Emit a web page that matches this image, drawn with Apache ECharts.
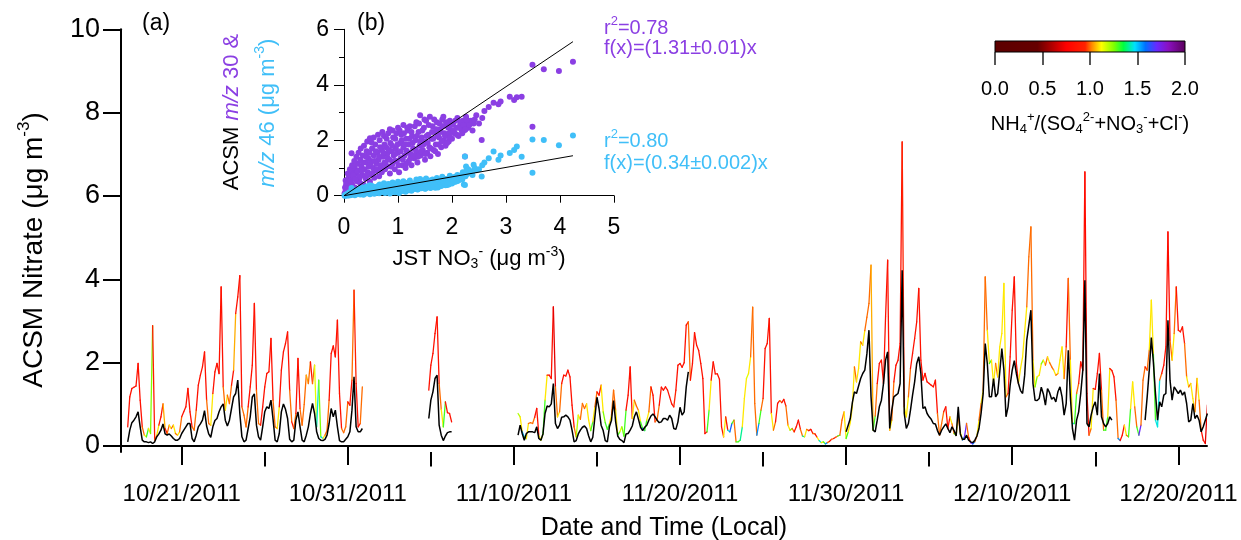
<!DOCTYPE html>
<html>
<head>
<meta charset="utf-8">
<script src="https://cdn.jsdelivr.net/npm/echarts@6.0.0/dist/echarts.min.js"></script>
<style>
html,body{margin:0;padding:0;background:#fff;}
#chart{width:1241px;height:540px;}
</style>
</head>
<body>
<div id="chart"></div>
<script>
// ---------- time series: ACSM nitrate (coloured by NH4 ratio) and JST nitrate ----------
const HOUR = 3600e3;
const STEP_HOURS = 3;

// start of each continuous ACSM record (UTC used as local clock)
const acsmStarts = [Date.UTC(2011, 9, 17, 18), Date.UTC(2011, 10, 4, 21), Date.UTC(2011, 10, 10, 6)];

const nitrateA = [
  0.46,1.18,1.38,1.41,1.44,1.98,1.10,0.46,0.26,0.22,
  0.42,0.30,2.89,0.14,0.26,0.50,0.70,1.01,0.42,0.30,
  0.50,0.42,0.50,0.30,0.26,0.34,0.70,0.82,0.94,1.38,
  0.82,0.46,0.38,0.86,1.46,1.70,1.90,2.26,1.10,0.54,
  0.50,1.26,1.78,1.98,1.74,3.82,1.42,0.86,1.22,1.02,
  1.46,1.82,3.18,3.58,4.09,0.94,0.74,0.46,0.94,1.42,
  1.94,3.42,1.34,0.54,0.50,0.94,1.42,1.74,1.78,2.58,
  1.10,0.46,0.42,0.94,1.82,2.26,2.46,2.74,1.34,0.58,
  0.42,0.78,2.10,0.90,0.50,1.00,1.70,1.50,2.02,1.50,
  1.94,0.46,1.58,0.22,0.18,0.26,0.38,1.10,2.22,2.40,
  2.14,3.02,1.26,0.42,0.32,0.46,1.06,0.98,1.58,3.74,
  1.50,0.46,0.54,1.42
];
const ratioA = [
  0.85,0.85,0.85,0.85,0.85,0.85,0.85,1.0,1.1,1.3,
  1.1,1.25,0.9,1.0,1.1,0.85,0.85,1.05,0.85,1.0,
  1.1,1.0,1.1,1.0,1.1,1.0,0.85,0.85,0.85,0.85,
  0.85,1.0,1.0,0.85,0.85,0.85,0.85,0.85,1.0,1.0,
  1.1,0.85,0.85,0.85,0.85,0.85,1.0,1.1,1.0,1.0,
  0.85,1.05,0.85,0.85,0.85,1.0,1.0,1.0,0.85,0.85,
  0.85,0.85,1.0,1.0,0.85,0.85,0.85,0.85,0.85,0.85,
  1.0,1.0,1.1,0.85,0.85,0.85,0.85,0.85,1.0,0.85,
  1.0,0.85,0.85,1.0,1.0,1.0,1.05,1.0,0.85,1.0,
  1.15,1.45,1.25,1.45,1.1,1.0,1.0,0.85,0.85,0.85,
  0.85,0.85,0.85,1.0,1.0,1.0,0.85,0.85,1.0,0.95,
  0.85,0.85,1.0,0.85
];
const nitrateB = [1.34,1.94,2.22,2.70,3.10,1.50,0.88,0.46,1.06,0.80,0.78,0.58];
const ratioB   = [0.85,0.85,0.85,0.85,0.85,1.0,1.1,1.3,0.85,0.85,0.85,0.85];
const nitrateC = [
  0.78,0.70,0.34,0.22,0.18,0.54,0.56,0.54,0.69,0.90,
  0.26,0.14,0.29,1.10,1.70,1.70,1.62,3.34,1.42,0.70,
  0.82,1.50,1.70,1.68,1.82,1.66,0.98,0.46,0.22,0.74,
  0.64,1.02,0.90,1.01,0.62,0.37,0.58,0.94,1.30,1.22,
  1.46,0.82,0.56,0.40,0.53,0.74,1.34,0.86,0.26,0.34,
  0.46,0.24,0.86,1.22,1.90,0.66,1.10,0.96,0.85,0.58,
  0.42,0.37,0.62,0.82,1.42,1.22,0.58,0.64,0.98,1.41,
  1.34,1.42,1.34,1.18,1.01,0.94,1.34,1.94,1.98,1.89,
  2.00,2.90,2.98,1.58,1.98,2.72,2.42,2.29,1.98,1.62,
  0.30,0.34,0.86,1.58,2.02,1.73,1.73,1.60,0.46,0.22,
  0.70,0.38,0.34,0.54,0.62,0.10,0.10,0.14,0.46,1.14,
  1.62,1.74,2.14,3.33,1.02,0.26,0.54,0.86,1.14,2.34,
  2.46,3.06,0.78,0.38,0.58,1.02,1.09,1.04,1.12,0.96,
  0.50,0.38,0.42,0.34,0.46,0.62,0.40,0.24,0.22,0.40,
  0.37,0.40,0.30,0.29,0.21,0.13,0.08,0.10,0.05,0.08,
  0.11,0.16,0.18,0.21,0.24,0.26,0.62,0.82,0.18,0.34,
  0.56,0.94,1.90,1.54,1.86,2.50,2.42,2.77,3.09,3.42,
  4.34,0.38,0.72,1.50,1.98,2.06,1.50,3.10,4.46,0.38,
  0.62,1.54,1.94,2.06,2.46,7.30,0.94,0.70,1.18,1.86,
  2.22,2.58,2.98,3.78,2.06,1.58,1.74,1.54,1.50,1.46,
  1.42,1.58,0.78,0.26,0.54,0.82,0.94,0.42,0.70,0.53,
  0.30,0.26,0.70,0.34,0.14,0.22,0.54,0.21,0.08,0.05,
  0.10,0.24,0.62,1.02,1.34,4.06,2.78,1.98,2.06,1.50,
  1.98,1.66,2.38,2.70,3.90,1.18,1.26,2.14,3.26,4.06,
  1.98,1.50,1.86,2.14,2.75,3.34,4.54,5.26,2.06,1.42,
  1.66,1.70,1.97,2.06,1.94,2.14,2.00,1.90,1.82,1.70,
  1.74,2.06,2.38,1.62,2.38,4.02,2.06,0.54,0.54,1.26,
  1.50,2.02,1.82,6.58,1.26,0.26,0.42,1.38,1.36,1.74,
  2.22,1.34,0.38,0.38,0.70,1.86,1.81,1.66,1.10,0.18,
  0.13,0.26,0.50,0.26,0.22,0.90,1.54,0.94,0.46,0.26,
  0.50,1.58,1.90,1.82,2.30,3.50,2.20,0.62,0.46,1.58,
  1.74,1.94,2.38,5.14,2.54,2.06,2.70,3.82,2.78,2.74,
  2.86,2.46,1.66,1.42,1.50,1.14,0.82,1.62,1.10,0.38,
  0.14,0.06,0.98
];
const ratioC = [
  1.2,1.1,1.5,1.3,1.1,1.0,1.0,1.0,0.85,0.85,
  1.1,1.2,1.3,1.1,0.85,0.85,0.85,0.7,1.0,1.1,
  1.0,0.85,0.85,0.85,0.85,0.85,0.85,1.0,1.2,1.1,
  1.0,1.0,1.0,1.1,1.1,1.3,1.1,1.0,0.85,0.85,
  1.1,1.25,1.3,1.3,1.1,1.0,1.0,1.1,1.3,1.15,
  1.25,1.3,0.85,0.85,0.85,1.1,1.0,1.0,1.1,1.3,
  1.55,1.3,1.1,1.0,0.85,0.85,1.0,1.0,0.85,0.85,
  0.85,0.85,0.85,0.85,0.85,0.95,0.85,0.85,0.85,0.85,
  0.85,0.85,1.0,0.85,0.85,0.85,0.85,0.85,0.85,0.85,
  0.85,1.3,1.1,0.85,0.85,0.85,0.85,0.85,0.85,1.1,
  0.85,1.45,1.6,1.3,1.0,1.3,1.3,1.4,1.1,1.1,
  1.15,1.1,1.0,1.0,1.0,1.55,1.3,1.0,0.85,0.85,
  0.85,0.85,1.1,1.0,0.85,0.85,1.0,0.85,0.85,1.0,
  1.1,1.25,1.0,0.85,0.85,0.85,1.0,1.4,1.1,1.0,
  0.85,0.85,1.0,0.85,1.1,1.45,1.1,1.3,1.55,1.0,
  0.85,1.0,0.85,1.0,1.3,1.0,1.0,1.1,1.3,1.1,
  1.1,1.1,1.0,1.1,1.1,1.0,1.1,1.0,1.0,1.0,
  1.05,1.3,1.0,0.85,0.85,0.85,0.85,0.85,0.85,1.1,
  1.0,0.85,0.85,0.85,0.85,0.95,1.1,1.1,1.0,0.85,
  0.85,0.85,0.85,0.85,0.85,0.85,0.85,0.85,0.85,0.85,
  0.85,0.85,1.0,1.0,1.0,0.85,0.85,0.85,1.1,1.0,
  1.25,1.1,1.0,1.1,1.6,1.7,1.0,0.85,1.7,1.58,
  1.0,1.1,1.0,1.1,1.0,1.0,1.1,1.3,1.1,1.1,
  1.0,1.1,1.1,1.1,1.1,1.0,0.85,0.85,0.85,0.85,
  0.85,1.1,1.1,1.1,1.1,1.0,1.0,1.0,1.1,1.25,
  1.1,1.1,1.25,1.1,1.0,1.1,1.0,1.0,1.1,1.0,
  1.1,1.1,1.1,1.0,0.85,1.0,1.1,1.45,1.3,1.0,
  0.85,0.85,0.85,0.8,0.85,1.0,1.1,0.85,0.85,0.85,
  0.85,1.0,1.3,1.3,1.1,0.85,0.85,0.85,1.0,1.55,
  0.85,0.85,1.1,1.0,1.3,1.1,1.1,1.0,1.3,1.7,
  1.0,1.0,0.85,1.0,1.1,1.1,1.3,1.45,1.45,1.0,
  0.85,0.85,0.85,0.8,1.0,1.1,1.0,0.85,0.85,0.85,
  0.85,1.0,1.1,1.0,1.1,1.1,1.0,1.1,1.0,0.85,
  0.85,0.7,1.0
];

// JST filter nitrate, same 3-hour clock, one array per continuous record
const jstStarts = [Date.UTC(2011, 9, 17, 18), Date.UTC(2011, 10, 4, 21), Date.UTC(2011, 10, 10, 6),
                   Date.UTC(2011, 10, 30, 0), Date.UTC(2011, 11, 18, 0)];
const jstA = [
  0.10,0.38,0.56,0.62,0.70,0.82,0.46,0.14,0.10,0.10,
  0.08,0.10,0.06,0.10,0.22,0.29,0.38,0.53,0.29,0.26,
  0.29,0.24,0.18,0.14,0.14,0.18,0.30,0.38,0.46,0.54,
  0.54,0.18,0.10,0.26,0.46,0.53,0.62,0.85,0.48,0.29,
  0.21,0.46,0.61,0.66,0.82,0.94,1.01,0.62,0.48,0.62,
  0.90,1.18,1.26,1.58,0.78,0.22,0.10,0.14,0.42,0.70,
  1.18,1.25,0.50,0.22,0.14,0.46,0.82,0.94,0.90,1.10,
  0.64,0.14,0.10,0.30,0.82,1.01,0.88,0.66,0.16,0.10,
  0.14,0.62,0.82,0.46,0.14,0.10,0.26,0.46,0.78,1.02,
  0.78,0.34,0.18,0.14,0.13,0.16,0.26,0.54,0.90,0.70,
  0.86,0.46,0.13,0.10,0.10,0.16,0.22,0.34,0.86,1.66,
  0.46,0.34,0.34,0.42
];
const jstB = [0.66,1.10,1.30,1.62,1.70,0.50,0.26,0.13,0.24,0.32,0.34,0.34];
const jstC = [
  0.26,0.50,0.30,0.14,0.30,0.34,0.34,0.34,0.32,0.46,
  0.18,0.14,0.29,0.78,0.96,0.94,1.01,1.50,0.54,0.42,
  0.50,0.69,0.70,0.74,0.70,0.62,0.38,0.10,0.13,0.29,
  0.38,0.45,0.48,0.42,0.24,0.10,0.21,0.69,1.17,0.90,
  0.50,0.37,0.13,0.10,0.46,0.62,1.09,0.58,0.24,0.16,
  0.13,0.08,0.29,0.30,0.38,0.48,0.70,0.82,0.64,0.45,
  0.37,0.45,0.50,0.62,0.72,0.77,0.70,0.62,0.56,0.58,
  0.66,0.66,0.62,0.74,0.66,0.42,0.40,0.58,0.93,0.74,
  0.82,1.42,1.78
];
const jstD = [
  0.34,0.50,0.66,1.04,1.30,1.26,1.44,1.62,1.74,1.82,
  2.21,2.78,1.18,0.38,0.34,0.62,0.94,1.10,1.50,2.06,
  2.26,0.42,0.86,1.18,1.22,1.26,1.50,4.22,0.78,0.42,
  0.54,0.86,1.22,1.54,1.98,2.14,1.74,0.90,0.94,0.78,
  0.70,0.64,0.54,0.53,0.37,0.26,0.38,0.46,0.53,0.42,
  0.32,0.46,0.37,0.24,0.94,0.29,0.16,0.16,0.26,0.14,
  0.10,0.08,0.14,0.24,0.42,0.78,1.25,2.46,1.98,1.18,
  1.18,1.62,1.18,1.26,1.78,2.34,1.82,0.70,0.94,1.46,
  1.82,2.05,1.74,1.50,1.33,1.26,1.70,2.54,2.90,3.26,
  1.50,1.10,1.09,1.14,1.41,1.25,0.98,1.38,1.28,1.12,
  1.17,1.06,1.30,1.42,1.18,0.74,1.02,2.30,1.18,0.42,
  0.14,0.62,0.82,1.26,1.82,3.98,0.54,0.46,0.74,0.94,
  1.06,0.74,1.74,0.70,0.54,0.46,0.54,0.70,0.62
];
const jstE = [
  0.62,1.18,1.82,2.60,2.00,1.26,0.62,1.06,0.94,1.22,
  1.26,3.02,1.58,1.10,1.42,1.34,1.26,1.34,1.22,1.30,
  1.02,0.58,0.62,1.02,0.66,0.74,0.62,0.34,0.46,0.62,0.78
];

// axis ticks
const dateTicks = ['2011-10-21','2011-10-31','2011-11-10','2011-11-20','2011-11-30','2011-12-10','2011-12-20'];
const midDateTicks = ['2011-10-26','2011-11-05','2011-11-15','2011-11-25','2011-12-05','2011-12-15'];
const nitrateTicks = [0, 2, 4, 6, 8, 10];

// ---------- inset: ACSM m/z 30 and m/z 46 against JST nitrate (one entry per sample) ----------
const jstNO3 = [
  0.02,0.05,0.05,0.08,0.10,0.10,0.12,0.14,0.15,0.16,0.18,0.20,0.20,0.22,0.24,0.25,0.26,0.28,0.30,0.30,
  0.32,0.34,0.35,0.36,0.38,0.40,0.40,0.42,0.44,0.45,0.46,0.48,0.48,0.50,0.50,0.52,0.54,0.55,0.56,0.58,
  0.60,0.60,0.62,0.64,0.65,0.66,0.68,0.70,0.70,0.72,0.74,0.75,0.76,0.78,0.80,0.80,0.82,0.84,0.85,0.86,
  0.88,0.90,0.90,0.92,0.94,0.95,0.96,0.98,1.00,1.00,1.02,1.04,1.05,1.06,1.08,1.10,1.10,1.12,1.14,1.15,
  1.16,1.18,1.20,1.20,1.22,1.24,1.25,1.26,1.28,1.30,1.32,1.34,1.35,1.36,1.38,1.40,1.41,1.42,1.44,1.46,
  1.48,1.50,1.50,1.52,1.54,1.56,1.58,1.59,1.60,1.62,1.64,1.66,1.68,1.70,1.72,1.74,1.76,1.78,1.80,1.82,
  1.84,1.85,1.86,1.88,1.90,1.92,1.94,1.96,1.98,2.00,2.02,2.05,2.08,2.10,2.12,2.15,2.18,2.20,2.22,2.24,
  2.24,2.26,2.28,2.30,2.35,2.40,2.45,2.55,2.60,2.68,2.77,2.86,2.90,3.07,3.15,3.20,3.29,3.49,3.49,3.70,
  3.98,4.24,
  0.03,0.06,0.07,0.09,0.11,0.13,0.15,0.17,0.19,0.21,0.23,0.25,0.27,0.29,0.31,0.33,0.35,0.37,0.39,0.41,
  0.43,0.45,0.47,0.49,0.51,0.53,0.55,0.57,0.59,0.61,0.63,0.65,0.67,0.69,0.71,0.73,0.75,0.77,0.79,0.81,
  0.83,0.85,0.87,0.89,0.91,0.93,0.95,0.97,0.99,1.01,1.03,1.05,1.07,1.09,1.11,1.13,1.15,1.17,1.19,1.21,
  1.23,1.25,1.27,1.29,1.31,1.33,1.35,1.37,1.39,1.41,1.43,1.45,1.47,1.49,1.51,1.53,1.55,1.57,1.61,1.63,
  1.65,1.67,1.69,1.71,1.73,1.75,1.77,1.79,1.81,1.83,1.87,1.89,1.91,1.93,1.95,1.97,1.99,2.03,2.06,2.09,
  2.13,2.16,2.19,2.21,2.25,2.27,2.32,2.38,2.42,2.50,2.56,0.01,0.03,0.04,0.06,0.08,0.12
];
const mz30 = [
  0.30,0.45,0.20,0.62,0.35,0.75,0.55,1.53,0.40,0.85,0.65,0.30,1.00,0.78,0.52,1.15,0.90,0.60,1.30,0.45,
  1.05,0.75,1.45,0.40,0.95,1.20,0.62,1.60,0.85,1.35,1.05,2.07,0.50,1.25,0.78,1.70,1.00,1.45,0.65,1.85,
  1.15,0.90,1.55,1.30,0.70,2.00,1.10,1.65,0.85,1.40,2.15,1.20,0.95,1.75,1.50,1.05,2.25,1.30,0.80,1.90,
  1.60,1.15,2.35,1.45,0.95,2.05,1.70,1.25,2.45,1.55,0.85,1.90,1.35,2.20,1.10,1.75,2.55,1.45,1.00,2.05,
  1.62,2.35,1.25,1.85,2.50,1.50,1.10,2.15,1.70,1.35,2.00,2.65,1.55,1.20,2.30,1.80,2.90,1.45,2.10,1.65,
  2.45,1.30,1.95,2.70,1.55,2.20,1.75,2.85,1.42,2.05,2.50,1.65,2.30,1.85,2.65,1.50,2.10,2.40,1.75,2.75,
  2.85,2.00,2.25,1.80,2.55,2.15,1.95,2.70,2.35,2.05,2.60,2.25,2.45,2.80,2.15,2.55,2.35,2.70,2.50,2.37,
  1.41,2.85,2.60,2.45,2.70,2.60,2.90,2.01,3.05,3.20,3.35,3.30,3.40,3.57,3.45,3.55,3.57,2.49,4.72,4.56,
  4.50,4.83,
  0.55,0.38,0.80,0.50,0.95,0.42,1.10,0.72,1.25,0.58,1.40,0.88,1.55,0.70,1.70,0.92,1.20,1.80,0.68,1.40,
  1.95,0.75,1.55,1.15,1.92,0.82,2.10,1.25,1.60,0.95,2.20,1.40,1.75,1.00,2.30,1.55,1.85,1.15,2.05,1.35,
  1.65,2.40,1.05,1.80,2.10,1.25,1.50,2.25,1.85,1.10,2.35,1.60,2.00,1.30,2.25,1.85,1.15,2.45,1.55,2.05,
  1.35,2.30,1.90,1.45,2.50,1.65,2.15,1.40,2.60,1.95,1.60,2.35,1.85,2.75,1.50,2.15,1.90,2.55,1.70,2.30,
  2.05,2.75,1.60,2.40,2.15,1.85,2.60,2.30,1.95,2.50,2.15,2.65,1.90,2.45,2.25,2.10,2.55,2.35,2.70,2.20,
  2.45,2.65,2.25,2.55,2.40,2.75,2.55,2.35,2.75,2.60,2.80,0.08,0.18,0.40,0.28,0.15,0.25
];
const mz46 = [
  0.02,0.05,0.01,0.08,0.03,0.12,0.06,0.28,0.04,0.15,0.10,0.02,0.18,0.09,0.05,0.22,0.13,0.07,0.25,0.04,
  0.16,0.11,0.30,0.03,0.12,0.20,0.08,0.33,0.10,0.24,0.18,0.38,0.05,0.22,0.12,0.35,0.14,0.28,0.07,0.30,
  0.19,0.11,0.33,0.24,0.09,0.40,0.16,0.31,0.13,0.27,0.45,0.20,0.10,0.36,0.29,0.15,0.42,0.22,0.08,0.38,
  0.31,0.18,0.48,0.26,0.12,0.41,0.34,0.21,0.50,0.29,0.10,0.37,0.24,0.45,0.17,0.33,0.52,0.27,0.14,0.40,
  0.31,0.47,0.20,0.36,0.55,0.28,0.18,0.43,0.34,0.25,0.38,0.58,0.30,0.22,0.46,0.35,0.60,0.28,0.41,0.33,
  0.50,0.25,0.39,0.62,0.31,0.45,0.36,0.55,0.28,0.42,0.58,0.34,0.47,0.38,0.64,0.30,0.43,0.52,0.35,0.68,
  0.62,0.41,0.50,0.38,0.57,0.46,0.40,0.72,0.53,0.44,0.66,0.49,0.60,0.75,0.55,0.70,0.62,0.85,0.40,1.41,
  0.39,1.05,0.78,0.95,0.88,1.12,0.92,0.69,1.20,1.35,1.59,1.30,1.45,1.54,1.65,1.77,1.40,0.83,2.03,2.01,
  1.82,2.17,
  0.03,0.04,0.06,0.02,0.09,0.05,0.11,0.07,0.14,0.06,0.16,0.10,0.19,0.08,0.21,0.13,0.15,0.24,0.09,0.19,
  0.27,0.11,0.22,0.16,0.26,0.10,0.31,0.17,0.23,0.13,0.34,0.20,0.26,0.14,0.36,0.21,0.28,0.16,0.32,0.19,
  0.25,0.40,0.14,0.27,0.34,0.18,0.23,0.37,0.29,0.16,0.41,0.26,0.32,0.20,0.38,0.30,0.18,0.44,0.25,0.33,
  0.21,0.40,0.31,0.24,0.46,0.28,0.36,0.23,0.50,0.33,0.27,0.42,0.31,0.56,0.26,0.38,0.33,0.50,0.30,0.44,
  0.37,0.57,0.29,0.46,0.41,0.34,0.55,0.45,0.38,0.52,0.44,0.60,0.39,0.55,0.48,0.45,0.62,0.55,0.68,0.52,
  0.64,0.72,0.58,0.78,0.70,0.92,0.82,0.75,1.00,0.95,1.10,0.00,0.01,0.02,0.03,0.01,0.02
];
// regression slopes through the origin
const slope30 = 1.31;
const slope46 = 0.34;

// NH4+/(SO4 2- + NO3- + Cl-) colour scale
const RATIO_COLORS = [
  [0.00, '#5c0000'], [0.45, '#660000'], [0.60, '#b00000'], [0.75, '#ff0000'], [0.95, '#ff2200'],
  [1.02, '#ff8a00'], [1.12, '#ffff00'], [1.25, '#80ff00'], [1.35, '#00ff40'], [1.47, '#00e0ff'],
  [1.58, '#0070ff'], [1.70, '#6a28ff'], [1.82, '#8a10c0'], [2.00, '#5a005a']
];

const FONT = "'Liberation Sans', Arial, Helvetica, sans-serif";
const PURPLE = '#8b3fe3';
const CYAN = '#40bff8';

function hexRgb(h) { return [1, 3, 5].map(i => parseInt(h.substr(i, 2), 16)); }
function ratioColor(r) {
  const s = RATIO_COLORS;
  if (r <= s[0][0]) return s[0][1];
  for (let i = 1; i < s.length; i++) {
    if (r <= s[i][0]) {
      const f = (r - s[i - 1][0]) / (s[i][0] - s[i - 1][0]);
      const a = hexRgb(s[i - 1][1]), b = hexRgb(s[i][1]);
      return 'rgb(' + a.map((v, k) => Math.round(v + (b[k] - v) * f)).join(',') + ')';
    }
  }
  return s[s.length - 1][1];
}

function stamps(start, n) { return Array.from({ length: n }, (_, i) => start + i * STEP_HOURS * HOUR); }
function pairs(start, values) { const t = stamps(start, values.length); return values.map((v, i) => [t[i], v]); }
function segments(start, values, ratios) {
  const t = stamps(start, values.length), out = [];
  for (let i = 0; i < values.length - 1; i++) out.push([t[i], values[i], t[i + 1], values[i + 1], ratios[i]]);
  return out;
}
function fmtDate(ms) { const d = new Date(ms); return (d.getUTCMonth() + 1) + '/' + d.getUTCDate() + '/' + d.getUTCFullYear(); }

const colouredSegments = [].concat(
  segments(acsmStarts[0], nitrateA, ratioA),
  segments(acsmStarts[1], nitrateB, ratioB),
  segments(acsmStarts[2], nitrateC, ratioC)
);
const jstRecords = [jstA, jstB, jstC, jstD, jstE];

const dateTickMs = dateTicks.map(Date.parse);
const midTickMs = midDateTicks.map(Date.parse);
const timeMin = Date.UTC(2011, 9, 17, 8, 18);
const timeMax = Date.UTC(2011, 11, 21, 17, 26);
const jstMax = Math.max(...jstNO3);

const supS = (size, raise) => ({ fontSize: size, padding: [0, 0, raise * 2, 0] });
const subS = (size, drop) => ({ fontSize: size, padding: [drop * 2, 0, 0, 0] });

const chart = echarts.init(document.getElementById('chart'), null, { renderer: 'canvas' });

const blackSeries = jstRecords.map((vals, i) => ({
  type: 'line', xAxisIndex: 0, yAxisIndex: 0, data: pairs(jstStarts[i], vals),
  showSymbol: false, symbol: 'none', silent: true, z: 4,
  lineStyle: { color: '#000', width: 1.5 }
}));

const option = {
  animation: false,
  backgroundColor: '#fff',
  textStyle: { fontFamily: FONT, color: '#000' },
  grid: [
    { left: 121, top: 29.3, right: 34, bottom: 88, outerBoundsMode: 'none' },
    { left: 344, top: 29.3, width: 270, height: 166.4, outerBoundsMode: 'none' },
    { left: 995, top: 41, width: 190, height: 11, outerBoundsMode: 'none' }
  ],
  xAxis: [
    {
      gridIndex: 0, type: 'value', position: 'bottom', min: timeMin, max: timeMax,
      axisLine: { show: true, lineStyle: { color: '#000', width: 2 } },
      axisTick: { show: true, customValues: dateTickMs, length: 19, lineStyle: { color: '#000', width: 2 } },
      axisLabel: { customValues: dateTickMs, formatter: fmtDate, fontSize: 24, margin: 30, color: '#000', fontFamily: FONT },
      splitLine: { show: false },
      name: 'Date and Time (Local)', nameLocation: 'middle', nameGap: 64,
      nameTextStyle: { fontSize: 25, color: '#000', fontFamily: FONT }
    },
    {
      gridIndex: 0, type: 'value', position: 'bottom', min: timeMin, max: timeMax,
      axisLine: { show: false },
      axisTick: { show: true, customValues: midTickMs, length: 14.5, lineStyle: { color: '#000', width: 2 } },
      axisLabel: { show: false }, splitLine: { show: false }
    },
    {
      gridIndex: 1, type: 'value', min: 0, max: 5, interval: 1,
      axisLine: { show: true, onZero: false, lineStyle: { color: '#000', width: 1 } },
      axisTick: { show: true, length: 7, lineStyle: { color: '#000', width: 1 } },
      axisLabel: { fontSize: 23, margin: 20, color: '#000', fontFamily: FONT },
      splitLine: { show: false },
      name: 'JST NO{sub|3}{sup|-} (μg m{sup|-3})', nameLocation: 'middle', nameGap: 49,
      nameTextStyle: { fontSize: 22, color: '#000', fontFamily: FONT,
        rich: { sub: subS(14, 5), sup: supS(14, 7) } }
    },
    {
      gridIndex: 2, type: 'value', min: 0, max: 2, interval: 0.5,
      axisLine: { show: false },
      axisTick: { show: true, length: 13, lineStyle: { color: '#222', width: 1.5 } },
      axisLabel: { fontSize: 20, margin: 27, color: '#000', fontFamily: FONT, formatter: v => v.toFixed(1) },
      splitLine: { show: false },
      name: 'NH{sub|4}{sup|+}/(SO{sub|4}{sup|2-}+NO{sub|3}{sup|-}+Cl{sup|-})', nameLocation: 'middle', nameGap: 59,
      nameTextStyle: { fontSize: 20, color: '#000', fontFamily: FONT,
        rich: { sub: subS(13, 5), sup: supS(13, 7) } }
    }
  ],
  yAxis: [
    {
      gridIndex: 0, type: 'value', min: -0.144, max: 10,
      axisLine: { show: true, onZero: false, lineStyle: { color: '#000', width: 2 } },
      axisTick: { show: true, customValues: nitrateTicks, length: 18, lineStyle: { color: '#000', width: 2 } },
      axisLabel: { customValues: nitrateTicks, fontSize: 27, margin: 21, color: '#000', fontFamily: FONT },
      splitLine: { show: false }
    },
    {
      gridIndex: 1, type: 'value', min: 0, max: 6, interval: 2,
      axisLine: { show: true, onZero: false, lineStyle: { color: '#000', width: 1 } },
      axisTick: { show: true, length: 10, lineStyle: { color: '#000', width: 1 } },
      minorTick: { show: true, splitNumber: 2, length: 5, lineStyle: { color: '#000', width: 1 } },
      axisLabel: { fontSize: 23, margin: 15, color: '#000', fontFamily: FONT },
      splitLine: { show: false }
    },
    {
      gridIndex: 2, type: 'value', min: 0, max: 1, show: false
    }
  ],
  series: [
    {
      type: 'custom', xAxisIndex: 0, yAxisIndex: 0, data: colouredSegments, silent: true, z: 3, clip: true,
      encode: { x: [0, 2], y: [1, 3] },
      renderItem(params, api) {
        const a = api.coord([api.value(0), api.value(1)]);
        const b = api.coord([api.value(2), api.value(3)]);
        return { type: 'line', shape: { x1: a[0], y1: a[1], x2: b[0], y2: b[1] },
          style: { stroke: ratioColor(api.value(4)), lineWidth: 1.3, lineCap: 'round' } };
      }
    },
    ...blackSeries,
    {
      type: 'scatter', xAxisIndex: 2, yAxisIndex: 1, silent: true, z: 3,
      data: jstNO3.map((x, i) => [x, mz30[i]]), symbolSize: 6,
      itemStyle: { color: PURPLE, opacity: 1 }
    },
    {
      type: 'scatter', xAxisIndex: 2, yAxisIndex: 1, silent: true, z: 4,
      data: jstNO3.map((x, i) => [x, mz46[i]]), symbolSize: 6,
      itemStyle: { color: CYAN, opacity: 1 }
    },
    {
      type: 'line', xAxisIndex: 2, yAxisIndex: 1, silent: true, z: 5, showSymbol: false, symbol: 'none',
      data: [[0, 0], [jstMax, slope30 * jstMax]], lineStyle: { color: '#000', width: 1 }
    },
    {
      type: 'line', xAxisIndex: 2, yAxisIndex: 1, silent: true, z: 5, showSymbol: false, symbol: 'none',
      data: [[0, 0], [jstMax, slope46 * jstMax]], lineStyle: { color: '#000', width: 1 }
    },
    {
      // colour bar for the NH4 ratio
      type: 'custom', xAxisIndex: 3, yAxisIndex: 2, silent: true, data: [[0, 0, 2, 1]],
      encode: { x: [0, 2], y: [1, 3] },
      renderItem(params, api) {
        const p0 = api.coord([api.value(0), api.value(1)]);
        const p1 = api.coord([api.value(2), api.value(3)]);
        const span = RATIO_COLORS[RATIO_COLORS.length - 1][0];
        return {
          type: 'rect',
          shape: { x: p0[0], y: p1[1], width: p1[0] - p0[0], height: p0[1] - p1[1] },
          style: {
            fill: new echarts.graphic.LinearGradient(0, 0, 1, 0,
              RATIO_COLORS.map(([v, c]) => ({ offset: v / span, color: c }))),
            stroke: '#000', lineWidth: 1
          }
        };
      }
    }
  ],
  graphic: [
    // main y-axis title
    { type: 'text', x: 34, y: 250, rotation: Math.PI / 2,
      style: { text: 'ACSM Nitrate (μg m{s|-3})', fontSize: 28, fontFamily: FONT, fill: '#000', align: 'center', verticalAlign: 'middle',
        rich: { s: { fontSize: 17, fill: '#000', fontFamily: FONT, padding: [0, 0, 20, 0] } } } },
    { type: 'text', x: 142, y: 24, style: { text: '(a)', fontSize: 23, fontFamily: FONT, fill: '#000', verticalAlign: 'middle' } },
    { type: 'text', x: 357, y: 24, style: { text: '(b)', fontSize: 23, fontFamily: FONT, fill: '#000', verticalAlign: 'middle' } },
    { type: 'text', x: 232, y: 112, rotation: Math.PI / 2,
      style: { text: 'ACSM {i|m/z} {p|30 &}', fontSize: 22, fontFamily: FONT, fill: '#000', align: 'center', verticalAlign: 'middle',
        rich: { i: { fontSize: 22, fontStyle: 'italic', fill: PURPLE, fontFamily: FONT }, p: { fontSize: 22, fill: PURPLE, fontFamily: FONT } } } },
    { type: 'text', x: 268, y: 113, rotation: Math.PI / 2,
      style: { text: '{i|m/z} 46 (μg m{s|-3})', fontSize: 22, fontFamily: FONT, fill: CYAN, align: 'center', verticalAlign: 'middle',
        rich: { i: { fontSize: 22, fontStyle: 'italic', fill: CYAN, fontFamily: FONT }, s: { fontSize: 14, fill: CYAN, fontFamily: FONT, padding: [0, 0, 16, 0] } } } },
    { type: 'text', x: 604, y: 28, style: { text: 'r{s|2}=0.78', fontSize: 20, fontFamily: FONT, fill: PURPLE, verticalAlign: 'middle',
        rich: { s: { fontSize: 13, fill: PURPLE, fontFamily: FONT, padding: [0, 0, 14, 0] } } } },
    { type: 'text', x: 604, y: 48.5, style: { text: 'f(x)=(1.31±0.01)x', fontSize: 20, fontFamily: FONT, fill: PURPLE, verticalAlign: 'middle' } },
    { type: 'text', x: 604, y: 141, style: { text: 'r{s|2}=0.80', fontSize: 20, fontFamily: FONT, fill: CYAN, verticalAlign: 'middle',
        rich: { s: { fontSize: 13, fill: CYAN, fontFamily: FONT, padding: [0, 0, 14, 0] } } } },
    { type: 'text', x: 604, y: 163, style: { text: 'f(x)=(0.34±0.002)x', fontSize: 20, fontFamily: FONT, fill: CYAN, verticalAlign: 'middle' } }
  ]
};

chart.setOption(option);
</script>
</body>
</html>
